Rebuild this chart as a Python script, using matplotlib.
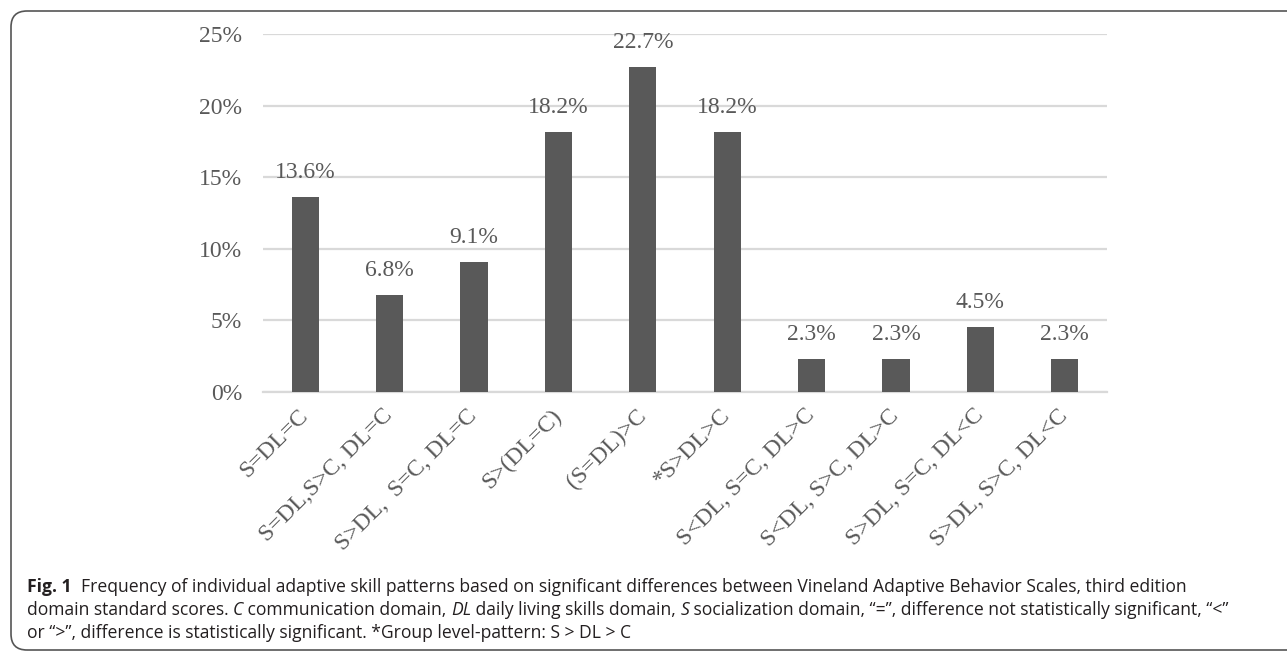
import matplotlib
matplotlib.use("Agg")
import matplotlib.pyplot as plt
from matplotlib.patches import FancyBboxPatch
from matplotlib.transforms import IdentityTransform
from matplotlib.ticker import FuncFormatter

# Frequency of each adaptive skill pattern (percent of sample)
patterns = ["S=DL=C", "S=DL,S>C, DL=C", "S>DL,  S=C, DL=C", "S>(DL=C)", "(S=DL)>C",
            "*S>DL>C", "S<DL, S=C, DL>C", "S<DL, S>C, DL>C", "S>DL, S=C, DL<C",
            "S>DL, S>C, DL<C"]
freq = [13.6, 6.8, 9.1, 18.2, 22.7, 18.2, 2.3, 2.3, 4.5, 2.3]
yticks = [0, 5, 10, 15, 20, 25]

W, H, DPI = 1287, 651, 100
grey = "#595959"
serif = ["Liberation Serif", "DejaVu Serif"]
cap_font = ["Open Sans", "DejaVu Sans"]

fig = plt.figure(figsize=(W / DPI, H / DPI), dpi=DPI)
ax = fig.add_axes([263 / W, 1 - 391.7 / H, (1107 - 263) / W, (391.7 - 34.4) / H])

x = range(len(patterns))
ax.bar(x, freq, width=0.32, color=grey, zorder=3)
for xi, v in zip(x, freq):
    ax.annotate(f"{v:.1f}%", (xi, v), xytext=(0, 10), textcoords="offset points",
                ha="center", va="bottom", fontsize=17, color=grey, family=serif)

ax.set_xlim(-0.5, len(patterns) - 0.5)
ax.set_ylim(0, 25)
ax.set_yticks(yticks)
ax.yaxis.set_major_formatter(FuncFormatter(lambda v, p: f"{v:.0f}%"))
ax.grid(axis="y", color="#d9d9d9", linewidth=1.6, zorder=0)
for s in ["top", "right", "left"]:
    ax.spines[s].set_visible(False)
ax.spines["bottom"].set_color("#d9d9d9")
ax.spines["bottom"].set_linewidth(1.6)
ax.tick_params(axis="y", length=0, pad=15, labelsize=17, labelcolor=grey)
ax.tick_params(axis="x", length=0, pad=15)
ax.set_xticks(list(x))
ax.set_xticklabels(patterns, rotation=45, ha="right", va="center", rotation_mode="anchor",
                   fontsize=17, color=grey)
for lab in ax.get_yticklabels() + ax.get_xticklabels():
    lab.set_family(serif)

# rounded frame around figure + caption
frame = FancyBboxPatch((11, 1), 1320, 639, boxstyle="round,pad=0,rounding_size=16",
                       transform=IdentityTransform(), facecolor="none",
                       edgecolor="#555555", linewidth=1.2)
fig.patches.append(frame)

caption = [
    [("Fig. 1", "bold", "normal"),
     ("  Frequency of individual adaptive skill patterns based on significant differences "
      "between Vineland Adaptive Behavior Scales, third edition", "normal", "normal")],
    [("domain standard scores. ", "normal", "normal"), ("C", "normal", "italic"),
     (" communication domain, ", "normal", "normal"), ("DL", "normal", "italic"),
     (" daily living skills domain, ", "normal", "normal"), ("S", "normal", "italic"),
     (" socialization domain, \u201c=\u201d, difference not statistically significant, \u201c<\u201d",
      "normal", "normal")],
    [("or \u201c>\u201d, difference is statistically significant. *Group level-pattern: S > DL > C",
      "normal", "normal")],
]
baselines = [592, 615, 638]
renderer = fig.canvas.get_renderer()


def draw_line(parts, yb, size, x0=27):
    xpos = x0
    drawn = []
    for txt, weight, style in parts:
        t = fig.text(xpos / W, 1 - yb / H, txt, fontsize=size, family=cap_font,
                     weight=weight, style=style, color="#231f20", va="baseline", ha="left")
        xpos += t.get_window_extent(renderer).width
        drawn.append(t)
    return xpos - x0, drawn


# size the caption so the first line spans the text block
w0, tmp = draw_line(caption[0], baselines[0], 12)
for t in tmp:
    t.remove()
cap_size = 12 * (1180 - 27) / w0

for line, yb in zip(caption, baselines):
    draw_line(line, yb, cap_size)

fig.savefig("out.png", dpi=DPI)
